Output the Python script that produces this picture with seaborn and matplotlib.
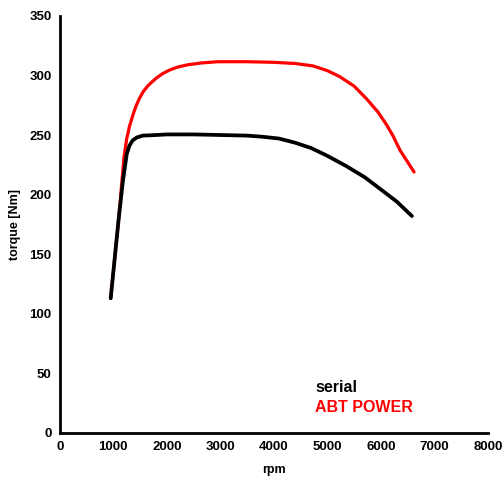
import matplotlib
matplotlib.use("Agg")
import matplotlib.pyplot as plt
import seaborn as sns
import pandas as pd

# serial engine torque curve
rpm_serial = [950, 1100, 1180, 1250, 1300, 1360, 1440, 1550, 1800, 2000, 2500, 3000, 3500,
              3800, 4100, 4400, 4700, 5000, 5350, 5700, 5980, 6300, 6580]
torque_serial = [113, 180, 212, 234, 241, 245.5, 248, 249.5, 250, 250.5, 250.5, 250, 249.5,
                 248.5, 247, 243.5, 239, 232.5, 224, 214.5, 205, 194, 182]

# ABT POWER torque curve
rpm_abt = [950, 1100, 1200, 1250, 1300, 1360, 1420, 1490, 1560, 1640, 1720, 1810, 1920,
           2050, 2200, 2400, 2650, 2950, 3500, 4000, 4400, 4730, 5000, 5230, 5500, 5740,
           5950, 6100, 6230, 6360, 6620]
torque_abt = [113, 180, 232, 247, 257, 266, 274, 281, 286.5, 291, 294.5, 298, 301.5,
              304.5, 307, 309, 310.5, 311.5, 311.5, 311, 310, 308, 304, 299, 291, 280,
              269, 259, 249, 237, 219]

sns.set_style("white")
plt.rcParams['font.family'] = ['Liberation Sans', 'DejaVu Sans']
plt.rcParams['font.weight'] = 'bold'

fig = plt.figure(figsize=(5.03, 4.8), dpi=100)
ax = fig.add_axes([0.119, 0.098, 0.851, 0.869])

df_abt = pd.DataFrame({'rpm': rpm_abt, 'torque': torque_abt})
df_serial = pd.DataFrame({'rpm': rpm_serial, 'torque': torque_serial})
sns.lineplot(data=df_abt, x='rpm', y='torque', color='#ff0000', linewidth=2.3, ax=ax)
sns.lineplot(data=df_serial, x='rpm', y='torque', color='black', linewidth=2.7, ax=ax)

ax.set_xlim(0, 8000)
ax.set_ylim(0, 350)
ax.set_xticks(range(0, 8001, 1000))
ax.set_yticks(range(0, 351, 50))
ax.tick_params(direction='inout', length=6, width=1.5, labelsize=9.5, pad=3,
               colors='black')
for lab in ax.get_xticklabels() + ax.get_yticklabels():
    lab.set_fontweight('bold')

for s in ['top', 'right']:
    ax.spines[s].set_visible(False)
for s in ['left', 'bottom']:
    ax.spines[s].set_linewidth(2)
    ax.spines[s].set_color('black')

ax.set_xlabel('rpm', fontsize=9, fontweight='bold', labelpad=8, color='black')
ax.set_ylabel('torque [Nm]', fontsize=9, fontweight='bold', labelpad=6, color='black')

ax.text(0.596, 0.108, 'serial', transform=ax.transAxes, color='black',
        fontsize=11.5, fontweight='bold', va='center')
ax.text(0.596, 0.062, 'ABT POWER', transform=ax.transAxes, color='#ff0000',
        fontsize=11.5, fontweight='bold', va='center')

fig.savefig('out.png', dpi=100)
